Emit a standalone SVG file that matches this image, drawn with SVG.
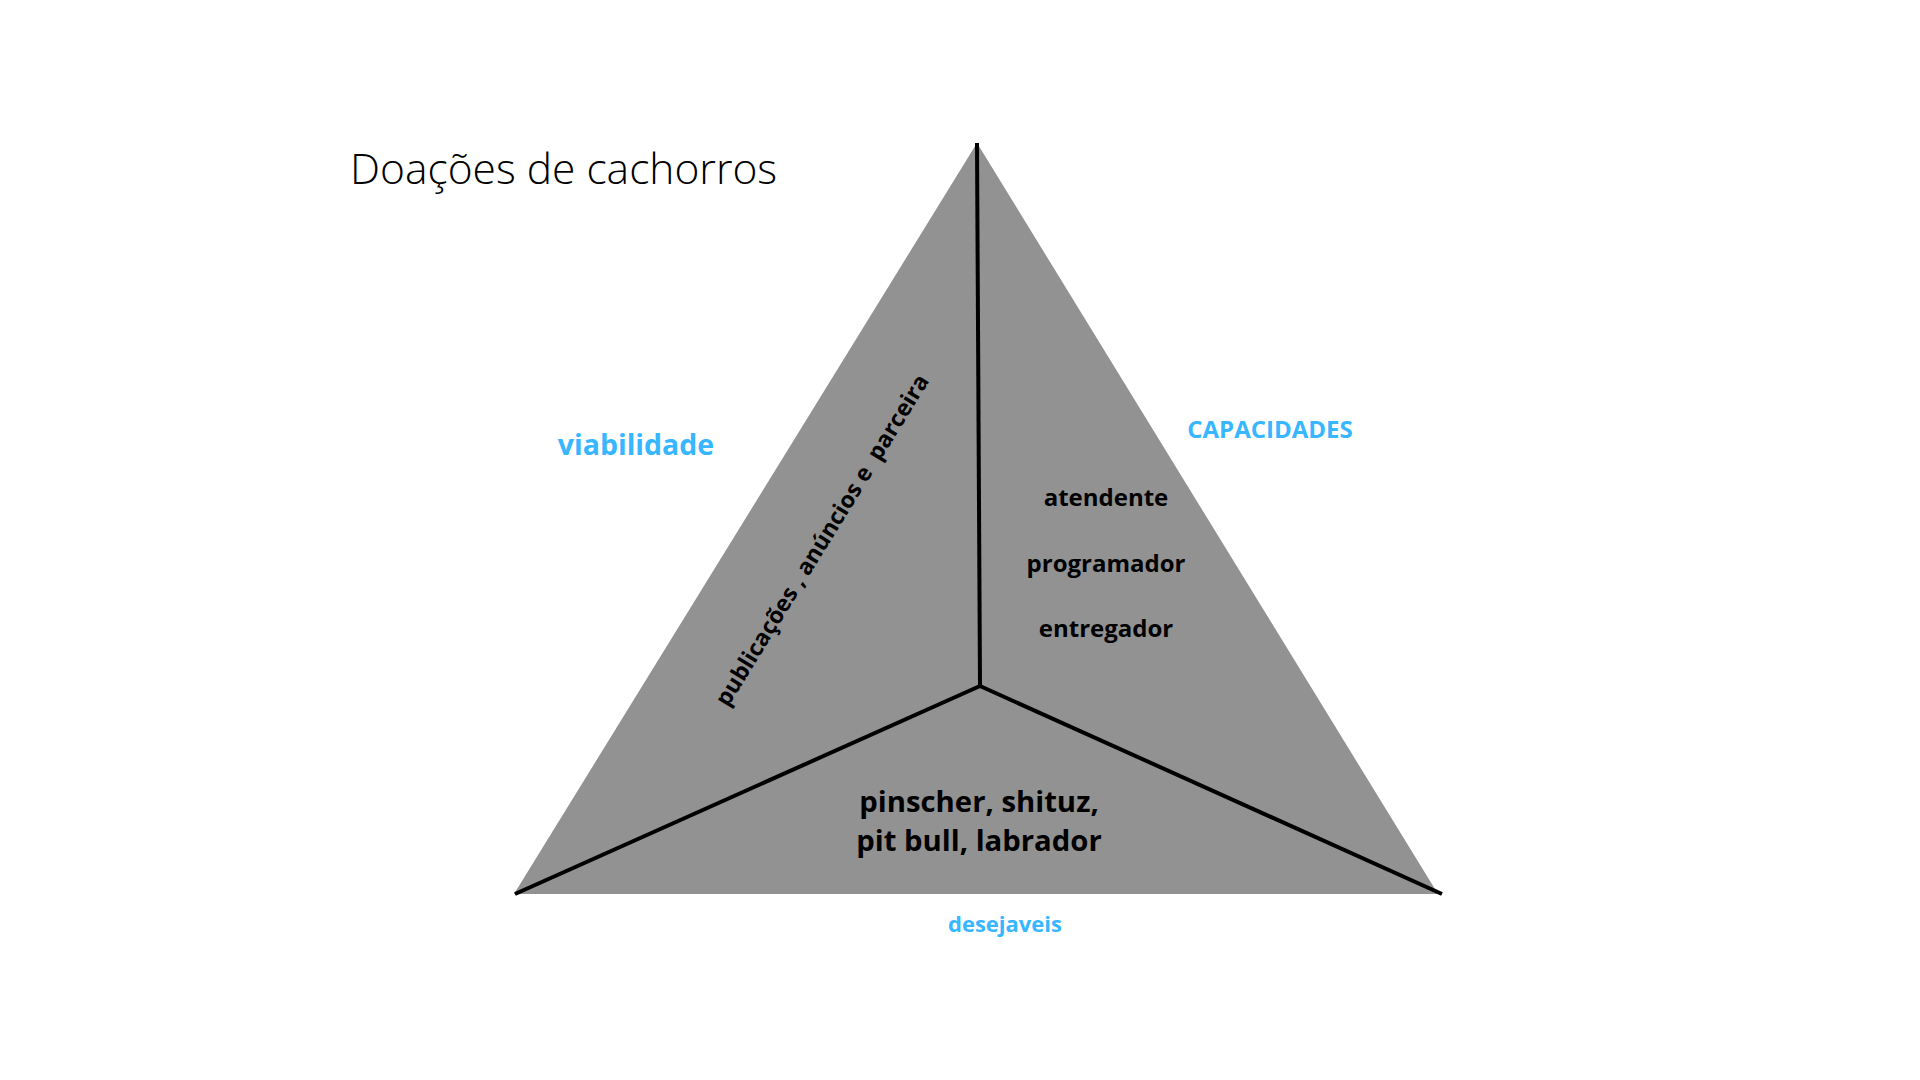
<svg xmlns="http://www.w3.org/2000/svg" width="1920" height="1080" viewBox="0 0 1920 1080">
<style>
text{font-family:"Open Sans","Noto Sans","Liberation Sans",sans-serif}
.title{font-size:42.5px;font-weight:300;fill:#000}
.blue{font-weight:700;fill:#38b6ff}
.lbl{font-weight:700;fill:#000}
.conn{stroke:#000;stroke-width:4;fill:none;stroke-linecap:butt}
</style>
<rect width="1920" height="1080" fill="#fff"/>
<g id="triangle">
<polygon points="977,143 514,894 1438,894" fill="#929292"/>
</g>
<g id="connectors">
<line class="conn" x1="977" y1="143" x2="980" y2="686"/>
<line class="conn" x1="980" y1="686" x2="515" y2="894"/>
<line class="conn" x1="980" y1="686" x2="1442" y2="894"/>
</g>
<g id="title"><text class="title" x="350" y="184">Doações de cachorros</text></g>
<g id="viabilidade"><text class="blue" x="636" y="455" font-size="28.5" text-anchor="middle">viabilidade</text></g>
<g id="capacidades"><text class="blue" x="1270" y="438" font-size="24" text-anchor="middle">CAPACIDADES</text></g>
<g id="desejaveis"><text class="blue" x="1005" y="932" font-size="22" text-anchor="middle">desejaveis</text></g>
<g id="roles" class="lbl" font-size="24" text-anchor="middle">
<text x="1106" y="506">atendente</text>
<text x="1106" y="572">programador</text>
<text x="1106" y="637">entregador</text>
</g>
<g id="breeds" class="lbl" font-size="29.3" text-anchor="middle">
<text x="979" y="812">pinscher, shituz,</text>
<text x="979" y="851">pit bull, labrador</text>
</g>
<g id="viability-items">
<text class="lbl" font-size="23" text-anchor="middle" xml:space="preserve" transform="translate(822,540) rotate(-58.3)" dy="8">publicações , anúncios e  parceira</text>
</g>
</svg>
